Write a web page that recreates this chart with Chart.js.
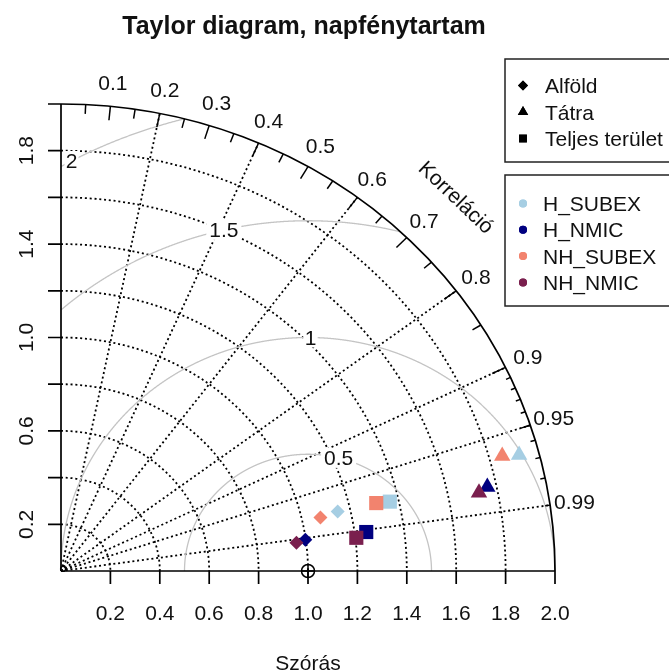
<!DOCTYPE html>
<html><head><meta charset="utf-8">
<script src="https://cdn.jsdelivr.net/npm/chart.js@4/dist/chart.umd.min.js"></script>
<style>html,body{margin:0;padding:0;background:#fff;overflow:hidden}canvas{display:block}</style>
</head><body>
<canvas id="c" width="669" height="672"></canvas>
<script>
// ---------------- data ----------------
const titleText = 'Taylor diagram, napfénytartam';
const xAxisTitle = 'Szórás';
const corrAxisTitle = 'Korreláció';
const regions = ['Alföld', 'Tátra', 'Teljes terület'];
const models = ['H_SUBEX', 'H_NMIC', 'NH_SUBEX', 'NH_NMIC'];
// standard deviation and correlation, order: Alföld, Tátra, Teljes terület
const sdH_SUBEX  = [1.149, 1.920, 1.364];
const corH_SUBEX = [0.975, 0.966, 0.976];
const sdH_NMIC   = [0.998, 1.763, 1.247];
const corH_NMIC  = [0.991, 0.979, 0.991];
const sdNH_SUBEX  = [1.075, 1.853, 1.309];
const corNH_SUBEX = [0.977, 0.964, 0.975];
const sdNH_NMIC   = [0.961, 1.725, 1.204];
const corNH_NMIC  = [0.992, 0.981, 0.993];
const refSd = 1.0;
const maxSd = 2.0;
// axes / grid
const xTicks = [0.2, 0.4, 0.6, 0.8, 1.0, 1.2, 1.4, 1.6, 1.8, 2.0];
const xTickLabels = ['0.2', '0.4', '0.6', '0.8', '1.0', '1.2', '1.4', '1.6', '1.8', '2.0'];
const yTicks = [0.2, 0.4, 0.6, 0.8, 1.0, 1.2, 1.4, 1.6, 1.8, 2.0];
const yTickLabels = ['0.2', '', '0.6', '', '1.0', '', '1.4', '', '1.8', ''];
const corrBigTicks = [0.1, 0.2, 0.3, 0.4, 0.5, 0.6, 0.7, 0.8, 0.9];
const corrMedTicks = [0.05, 0.15, 0.25, 0.35, 0.45, 0.55, 0.65, 0.75, 0.85, 0.95];
const corrSmallTicks = [0.91, 0.92, 0.93, 0.94, 0.95, 0.96, 0.97, 0.98, 0.99];
const corrLabelValues = [0.1, 0.2, 0.3, 0.4, 0.5, 0.6, 0.7, 0.8, 0.9, 0.95, 0.99];
const corrLabels = ['0.1', '0.2', '0.3', '0.4', '0.5', '0.6', '0.7', '0.8', '0.9', '0.95', '0.99'];
const corrGridLines = [0.2, 0.4, 0.6, 0.8, 0.9, 0.95, 0.99];
const sdGridArcs = [0.2, 0.4, 0.6, 0.8, 1.0, 1.2, 1.4, 1.6, 1.8];
const rmsdArcs = [0.5, 1, 1.5, 2];
const rmsdLabels = ['0.5', '1', '1.5', '2'];

// ---------------- styles ----------------
const modelColors = { H_SUBEX: '#A6CEE3', H_NMIC: '#000080', NH_SUBEX: '#F2836E', NH_NMIC: '#7A1F4E' };
const regionStyles = ['rectRot', 'triangle', 'rect'];
const regionRadii = [7, 9.5, 10];
const FONT = '"Liberation Sans", Arial, sans-serif';

const sdByModel = { H_SUBEX: sdH_SUBEX, H_NMIC: sdH_NMIC, NH_SUBEX: sdNH_SUBEX, NH_NMIC: sdNH_NMIC };
const corByModel = { H_SUBEX: corH_SUBEX, H_NMIC: corH_NMIC, NH_SUBEX: corNH_SUBEX, NH_NMIC: corNH_NMIC };

const datasets = models.map((m, mi) => ({
  label: m,
  data: regions.map((r, i) => {
    const s = sdByModel[m][i], c = corByModel[m][i];
    return { x: s * c, y: s * Math.sqrt(1 - c * c) };
  }),
  pointStyle: regionStyles,
  pointRadius: regionRadii,
  backgroundColor: modelColors[m],
  borderColor: modelColors[m],
  borderWidth: 0,
  showLine: false,
  order: models.length - mi
}));

function txt(ctx, s, x, y, o) {
  o = o || {};
  ctx.save();
  ctx.font = o.font || ('21px ' + FONT);
  ctx.fillStyle = o.color || '#111';
  ctx.textAlign = o.align || 'center';
  ctx.textBaseline = o.baseline || 'alphabetic';
  ctx.translate(x, y);
  if (o.rot) ctx.rotate(o.rot);
  ctx.fillText(s, 0, 0);
  ctx.restore();
}

const taylorGrid = {
  id: 'taylorGrid',
  beforeDatasetsDraw(chart) {
    const ctx = chart.ctx, xs = chart.scales.x, ys = chart.scales.y;
    const X = v => xs.getPixelForValue(v), Y = v => ys.getPixelForValue(v);
    const ox = X(0), oy = Y(0);
    const rx = r => X(r) - ox, ry = r => oy - Y(r);
    ctx.save();
    // dotted sd arcs
    ctx.strokeStyle = '#000';
    ctx.lineWidth = 1.8;
    ctx.setLineDash([2, 2.8]);
    sdGridArcs.forEach(r => {
      ctx.beginPath();
      ctx.ellipse(ox, oy, rx(r), ry(r), 0, -Math.PI / 2, 0);
      ctx.stroke();
    });
    // dotted correlation rays
    corrGridLines.forEach(c => {
      const s = Math.sqrt(1 - c * c);
      ctx.beginPath();
      ctx.moveTo(ox, oy);
      ctx.lineTo(X(maxSd * c), Y(maxSd * s));
      ctx.stroke();
    });
    ctx.setLineDash([]);
    // rmsd arcs (grey)
    ctx.strokeStyle = '#C4C4C4';
    ctx.lineWidth = 1.3;
    rmsdArcs.forEach(g => {
      ctx.beginPath();
      let started = false;
      for (let i = 0; i <= 2000; i++) {
        const t = Math.PI * i / 2000;
        const x = refSd + g * Math.cos(t), y = g * Math.sin(t);
        if (x < 0 || x * x + y * y > maxSd * maxSd + 1e-9) continue;
        if (!started) { ctx.moveTo(X(x), Y(y)); started = true; } else ctx.lineTo(X(x), Y(y));
      }
      ctx.stroke();
    });
    // outer arc
    ctx.strokeStyle = '#000';
    ctx.lineWidth = 1.7;
    ctx.beginPath();
    ctx.ellipse(ox, oy, rx(maxSd), ry(maxSd), 0, -Math.PI / 2, 0);
    ctx.stroke();
    // ticks on arc
    const tick = (c, f) => {
      const s = Math.sqrt(1 - c * c);
      ctx.beginPath();
      ctx.moveTo(X(maxSd * c), Y(maxSd * s));
      ctx.lineTo(X(maxSd * c * f), Y(maxSd * s * f));
      ctx.stroke();
    };
    ctx.lineWidth = 1.5;
    corrBigTicks.forEach(c => tick(c, 0.97));
    corrMedTicks.forEach(c => tick(c, 0.98));
    corrSmallTicks.forEach(c => tick(c, 0.99));
    // correlation labels
    corrLabelValues.forEach((c, i) => {
      const s = Math.sqrt(1 - c * c);
      txt(ctx, corrLabels[i], X(1.05 * maxSd * c), Y(1.05 * maxSd * s) + 1, { baseline: 'middle' });
    });
    txt(ctx, corrAxisTitle, X(1.597), Y(1.597), { baseline: 'middle', rot: Math.PI / 4 * 0.97 });
    // rmsd labels with white boxes
    ctx.font = '21px ' + FONT;
    rmsdArcs.forEach((g, k) => {
      const idx = Math.floor(45 + k * 25 / (rmsdArcs.length - 1));
      const t = (idx - 1) * 0.03;
      const x = refSd + g * Math.cos(t), y = g * Math.sin(t);
      if (x <= 0) return;
      const w = ctx.measureText(rmsdLabels[k]).width;
      ctx.fillStyle = '#fff';
      ctx.fillRect(X(x) - w * 0.6, Y(y) - 10, w * 1.2, 20);
      txt(ctx, rmsdLabels[k], X(x), Y(y) + 7.5);
    });
    // axes
    ctx.strokeStyle = '#000';
    ctx.lineWidth = 1.7;
    ctx.beginPath();
    ctx.moveTo(ox, oy); ctx.lineTo(X(maxSd), oy);
    ctx.moveTo(ox, oy); ctx.lineTo(ox, Y(maxSd));
    ctx.stroke();
    ctx.beginPath();
    xTicks.forEach(v => { ctx.moveTo(X(v), oy); ctx.lineTo(X(v), oy + 13); });
    yTicks.forEach(v => { ctx.moveTo(ox, Y(v)); ctx.lineTo(ox - 13, Y(v)); });
    ctx.stroke();
    xTicks.forEach((v, i) => txt(ctx, xTickLabels[i], X(v), oy + 49));
    yTicks.forEach((v, i) => { if (yTickLabels[i]) txt(ctx, yTickLabels[i], ox - 28, Y(v), { rot: -Math.PI / 2 }); });
    // reference point and origin
    ctx.lineWidth = 1.5;
    const rxp = X(refSd), ryp = Y(0);
    ctx.beginPath(); ctx.arc(rxp, ryp, 6.5, 0, Math.PI * 2); ctx.stroke();
    ctx.beginPath();
    ctx.moveTo(rxp - 6.5, ryp); ctx.lineTo(rxp + 6.5, ryp);
    ctx.moveTo(rxp, ryp - 6.5); ctx.lineTo(rxp, ryp + 6.5);
    ctx.stroke();
    ctx.lineWidth = 1.2;
    ctx.beginPath(); ctx.arc(ox + 2, oy - 2, 2.5, 0, Math.PI * 2); ctx.stroke();
    ctx.restore();
  },
  afterDraw(chart) {
    const ctx = chart.ctx, xs = chart.scales.x;
    // title & x title
    txt(ctx, titleText, 304, 34, { font: 'bold 25px ' + FONT });
    txt(ctx, xAxisTitle, (xs.getPixelForValue(0) + xs.getPixelForValue(maxSd)) / 2, 670);
    // legend boxes
    ctx.save();
    ctx.strokeStyle = '#222';
    ctx.lineWidth = 1.5;
    ctx.strokeRect(505, 59, 220, 103);
    ctx.strokeRect(505, 175, 220, 131);
    const sym = (style, x, y, r, color) => {
      ctx.fillStyle = color;
      Chart.helpers.drawPoint(ctx, { pointStyle: style, radius: r, borderWidth: 0 }, x, y);
      ctx.fill();
    };
    const rR = [5, 6, 5.5];
    regions.forEach((r, i) => {
      const base = 93 + i * 26.5;
      sym(regionStyles[i], 523, base - 7.5, rR[i], '#000');
      txt(ctx, r, 545, base, { align: 'left' });
    });
    models.forEach((m, i) => {
      const base = 211 + i * 26.3;
      sym('circle', 523, base - 7.5, 4, modelColors[m]);
      txt(ctx, m, 543, base, { align: 'left' });
    });
    ctx.restore();
  }
};

new Chart(document.getElementById('c'), {
  type: 'scatter',
  data: { datasets },
  options: {
    responsive: false,
    animation: false,
    devicePixelRatio: 1,
    events: [],
    layout: { padding: { left: 61, right: 114, top: 104, bottom: 101 } },
    scales: {
      x: { type: 'linear', min: 0, max: maxSd, display: false },
      y: { type: 'linear', min: 0, max: maxSd, display: false }
    },
    plugins: { legend: { display: false }, tooltip: { enabled: false }, title: { display: false } }
  },
  plugins: [taylorGrid]
});
</script>
</body></html>
